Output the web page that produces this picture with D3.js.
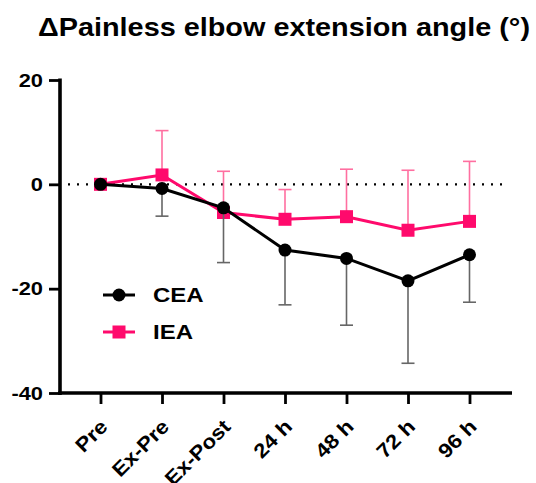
<!DOCTYPE html>
<html><head><meta charset="utf-8">
<script src="https://cdn.jsdelivr.net/npm/d3@7"></script>
<style>body{margin:0;background:#fff}svg{display:block}text{font-family:"Liberation Sans",Arial,sans-serif;font-weight:bold}</style>
</head><body>
<script>
const categories = ["Pre","Ex-Pre","Ex-Post","24 h","48 h","72 h","96 h"];
const ceaMean = [0,-0.8,-4.5,-12.6,-14.2,-18.5,-13.5];
const ceaSD   = [0,5.3,10.5,10.5,12.8,15.8,9.1];
const ieaMean = [0,1.8,-5.4,-6.7,-6.2,-8.8,-7.1];
const ieaSD   = [0,8.5,7.9,5.7,9.1,11.5,11.5];
const yTicks = [20,0,-20,-40];
const title = "ΔPainless elbow extension angle (°)";

const W=536,H=483;
const pink="#ff0a6c", pinkErr="#ff6fa0", blackErr="#666";
const svg=d3.select("body").append("svg").attr("width",W).attr("height",H);
const x=d3.scalePoint().domain(categories).range([100.5,469.5]);
const y=d3.scaleLinear().domain([-40,20]).range([393,80]);

svg.append("text").attr("x",38).attr("y",36).attr("text-anchor","start")
  .attr("font-size",25).attr("textLength",492).attr("lengthAdjust","spacingAndGlyphs").text(title);

// zero dotted line
svg.append("line").attr("x1",68).attr("x2",508).attr("y1",y(0)).attr("y2",y(0))
  .attr("stroke","#000").attr("stroke-width",2.2).attr("stroke-dasharray","2,7");

// y axis
const ya=svg.append("g").attr("transform","translate(60,0)")
  .call(d3.axisLeft(y).tickValues(yTicks).tickSize(11).tickPadding(0).tickFormat(d=>String(d)));
ya.select(".domain").remove();
ya.selectAll(".tick line").attr("stroke-width",2.8);
ya.selectAll(".tick text").attr("font-size",19).attr("fill","#000").attr("x",0)
  .attr("transform","translate(-17,0) scale(1.15,1)");
svg.append("line").attr("x1",60).attr("x2",60).attr("y1",78.5).attr("y2",395).attr("stroke","#000").attr("stroke-width",3.6);

// x axis
const xa=svg.append("g").attr("transform","translate(0,393)")
  .call(d3.axisBottom(x).tickSize(11).tickPadding(0));
xa.select(".domain").remove();
xa.selectAll(".tick line").attr("stroke-width",2.8);
xa.selectAll(".tick text").attr("font-size",20).attr("fill","#000")
  .attr("text-anchor","end").attr("y",0).attr("dy","0.7em")
  .attr("transform","translate(-2,25) rotate(-45) scale(1.12,1)");
svg.append("line").attr("x1",58.2).attr("x2",512).attr("y1",393).attr("y2",393).attr("stroke","#000").attr("stroke-width",3.6);

function series(mean,sd,dir,col,errCol,shape){
  const g=svg.append("g");
  categories.forEach((c,i)=>{
    if(sd[i]<=0) return;
    const y2=y(mean[i]+dir*sd[i]);
    g.append("line").attr("x1",x(c)).attr("x2",x(c)).attr("y1",y(mean[i])).attr("y2",y2).attr("stroke",errCol).attr("stroke-width",1.6);
    g.append("line").attr("x1",x(c)-6.5).attr("x2",x(c)+6.5).attr("y1",y2).attr("y2",y2).attr("stroke",errCol).attr("stroke-width",1.6);
  });
  const line=d3.line().x((d,i)=>x(categories[i])).y(d=>y(d));
  g.append("path").attr("d",line(mean)).attr("fill","none").attr("stroke",col).attr("stroke-width",3);
  categories.forEach((c,i)=>{
    if(shape==="circle") g.append("circle").attr("cx",x(c)).attr("cy",y(mean[i])).attr("r",6.5).attr("fill",col);
    else g.append("rect").attr("x",x(c)-6.5).attr("y",y(mean[i])-6.5).attr("width",13).attr("height",13).attr("fill",col);
  });
}
series(ieaMean,ieaSD,1,pink,pinkErr,"square");
series(ceaMean,ceaSD,-1,"#000",blackErr,"circle");

// legend
const leg=[{name:"CEA",col:"#000",shape:"circle",y:295},{name:"IEA",col:pink,shape:"square",y:332}];
leg.forEach(l=>{
  svg.append("line").attr("x1",103).attr("x2",135).attr("y1",l.y).attr("y2",l.y).attr("stroke",l.col).attr("stroke-width",3);
  if(l.shape==="circle") svg.append("circle").attr("cx",119).attr("cy",l.y).attr("r",6.5).attr("fill",l.col);
  else svg.append("rect").attr("x",112.5).attr("y",l.y-6.5).attr("width",13).attr("height",13).attr("fill",l.col);
  svg.append("text").attr("transform",`translate(153,${l.y}) scale(1.2,1)`).attr("dy","0.36em").attr("font-size",20).text(l.name);
});
</script>
</body></html>
